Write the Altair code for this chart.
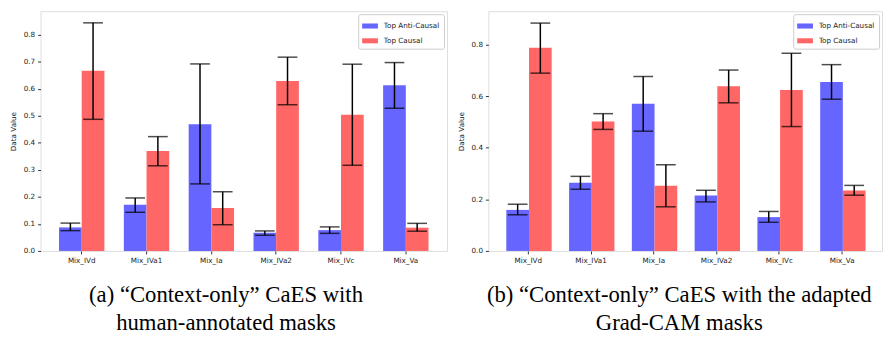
import altair as alt
import pandas as pd

categories = ["Mix_IVd", "Mix_IVa1", "Mix_Ia", "Mix_IVa2", "Mix_IVc", "Mix_Va"]
series = ["Top Anti-Causal", "Top Causal"]
colors = ["#6666ff", "#ff6666"]

# Panel (a): human-annotated masks
a_anti = [0.087, 0.171, 0.469, 0.067, 0.077, 0.613]
a_anti_lo = [0.075, 0.143, 0.248, 0.058, 0.065, 0.528]
a_anti_hi = [0.103, 0.196, 0.692, 0.074, 0.089, 0.697]
a_causal = [0.667, 0.370, 0.159, 0.629, 0.504, 0.086]
a_causal_lo = [0.487, 0.315, 0.097, 0.541, 0.317, 0.073]
a_causal_hi = [0.844, 0.423, 0.219, 0.717, 0.691, 0.102]

# Panel (b): adapted Grad-CAM masks
b_anti = [0.159, 0.264, 0.570, 0.215, 0.131, 0.655]
b_anti_lo = [0.140, 0.239, 0.464, 0.190, 0.111, 0.588]
b_anti_hi = [0.181, 0.289, 0.676, 0.235, 0.153, 0.722]
b_causal = [0.787, 0.502, 0.253, 0.638, 0.624, 0.234]
b_causal_lo = [0.689, 0.471, 0.171, 0.574, 0.482, 0.216]
b_causal_hi = [0.883, 0.532, 0.334, 0.701, 0.766, 0.254]

a_ticks = [0.0, 0.1, 0.2, 0.3, 0.4, 0.5, 0.6, 0.7, 0.8]
b_ticks = [0.0, 0.2, 0.4, 0.6, 0.8]

caption_a = ["(a) \u201cContext-only\u201d CaES with", "human-annotated masks"]
caption_b = ["(b) \u201cContext-only\u201d CaES with the adapted", "Grad-CAM masks"]

FS = 7.3


def make_df(anti, anti_lo, anti_hi, causal, causal_lo, causal_hi):
    rows = []
    for i, c in enumerate(categories):
        rows.append(dict(cat=c, series=series[0], value=anti[i], lo=anti_lo[i], hi=anti_hi[i]))
        rows.append(dict(cat=c, series=series[1], value=causal[i], lo=causal_lo[i], hi=causal_hi[i]))
    return pd.DataFrame(rows)


def panel(df, width, ymax, tick_values, caption, dx):
    x = alt.X("cat:N", sort=categories, title=None,
              scale=alt.Scale(paddingInner=0.3, paddingOuter=0.285),
              axis=alt.Axis(labelAngle=0, labelFontSize=FS, labelColor="#222",
                            tickSize=3, tickColor="#333", domain=False,
                            labelPadding=3, labelFont="DejaVu Sans"))
    xo = alt.XOffset("series:N", sort=series,
                     scale=alt.Scale(paddingInner=0, paddingOuter=0))
    y_scale = alt.Scale(domain=[0, ymax], nice=False, zero=True)
    y_axis = alt.Axis(values=tick_values, format=".1f", labelFontSize=FS,
                      labelColor="#222", titleFontSize=FS, titleColor="#222",
                      titleFontWeight="normal", grid=False, tickSize=3,
                      tickColor="#333", domain=False, labelPadding=3,
                      labelOverlap=False, labelBound=False,
                      titlePadding=6, labelFont="DejaVu Sans",
                      titleFont="DejaVu Sans")
    base = alt.Chart(df)
    bars = base.mark_bar().encode(
        x=x, xOffset=xo,
        y=alt.Y("value:Q", scale=y_scale, title="Data Value", axis=y_axis),
        color=alt.Color("series:N", sort=series,
                        scale=alt.Scale(domain=series, range=colors),
                        legend=alt.Legend(title=None, orient="top-right", offset=3,
                                          labelFontSize=FS, labelColor="#222",
                                          labelFont="DejaVu Sans",
                                          symbolType="M-1,-0.32L1,-0.32L1,0.32L-1,0.32Z",
                                          symbolSize=256, symbolStrokeWidth=0,
                                          fillColor="white", strokeColor="#cccccc",
                                          padding=4, cornerRadius=2, rowPadding=3,
                                          labelOffset=6)),
    )
    err = base.mark_rule(color="black", strokeWidth=1.5).encode(
        x=x, xOffset=xo,
        y=alt.Y("lo:Q", scale=y_scale, title="Data Value", axis=y_axis), y2="hi:Q",
    )
    cap_lo = base.mark_tick(color="black", thickness=1.5, size=20, orient="horizontal").encode(
        x=x, xOffset=xo, y=alt.Y("lo:Q", scale=y_scale, title="Data Value", axis=y_axis))
    cap_hi = base.mark_tick(color="black", thickness=1.5, size=20, orient="horizontal").encode(
        x=x, xOffset=xo, y=alt.Y("hi:Q", scale=y_scale, title="Data Value", axis=y_axis))
    return alt.layer(bars, err, cap_lo, cap_hi).properties(
        width=width, height=243,
        title=alt.TitleParams(text=caption, orient="bottom", anchor="middle",
                              font="Liberation Serif", fontSize=23,
                              fontWeight="normal", color="black",
                              lineHeight=29, offset=20, dx=dx),
    )


df_a = make_df(a_anti, a_anti_lo, a_anti_hi, a_causal, a_causal_lo, a_causal_hi)
df_b = make_df(b_anti, b_anti_lo, b_anti_hi, b_causal, b_causal_lo, b_causal_hi)

pa = panel(df_a, 412, 0.887, a_ticks, caption_a, -18)
pb = panel(df_b, 399, 0.929, b_ticks, caption_b, -6)

chart = alt.hconcat(pa, pb, spacing=8).resolve_legend(color="independent").resolve_scale(
    y="independent").properties(padding=0).configure_view(
    stroke="#555555", strokeWidth=1).configure(background="white")

chart.save("out.html", embed_options={"renderer": "svg", "actions": False})
